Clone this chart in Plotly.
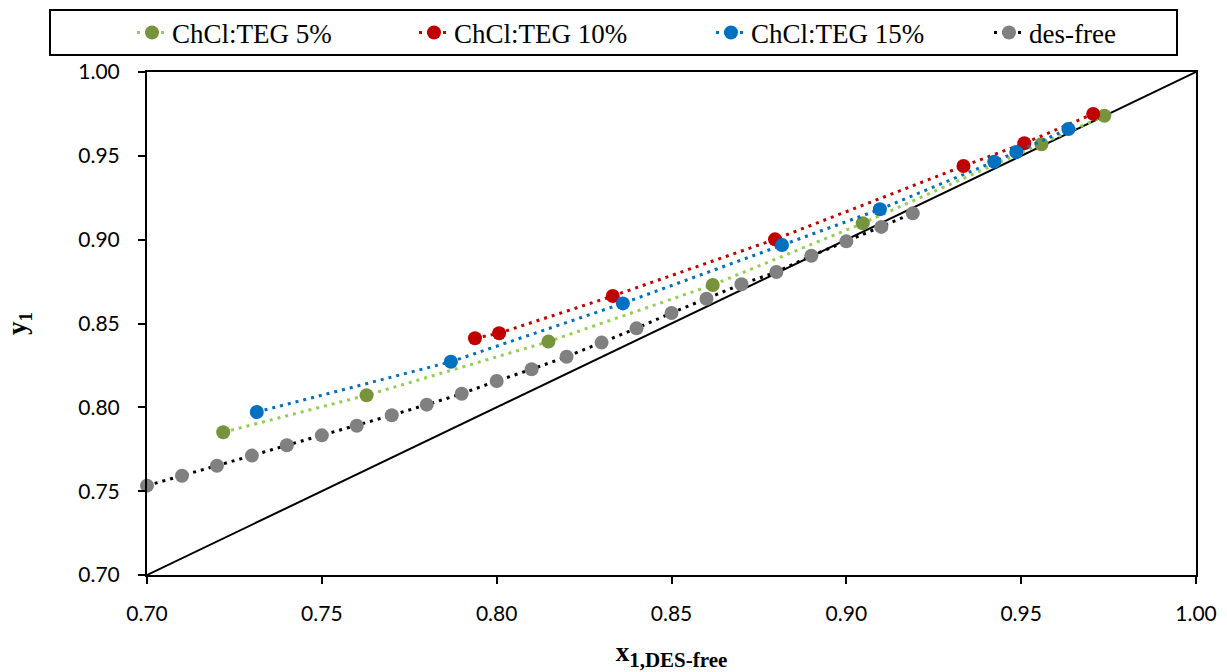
import plotly.graph_objects as go

# ChCl:TEG 5%
x_5 = [0.7218, 0.7628, 0.8148, 0.8618, 0.9047, 0.9558, 0.9738]
y_5 = [0.7851, 0.8072, 0.8392, 0.8730, 0.9098, 0.9569, 0.9739]
# ChCl:TEG 10%
x_10 = [0.7938, 0.8007, 0.8332, 0.8796, 0.9335, 0.9509, 0.9706]
y_10 = [0.8412, 0.8442, 0.8664, 0.9002, 0.9439, 0.9575, 0.9750]
# ChCl:TEG 15%
x_15 = [0.7314, 0.7869, 0.8361, 0.8816, 0.9096, 0.9423, 0.9486, 0.9635]
y_15 = [0.7972, 0.8272, 0.8620, 0.8968, 0.9181, 0.9465, 0.9523, 0.9660]
# des-free
x_free = [0.70, 0.71, 0.72, 0.73, 0.74, 0.75, 0.76, 0.77, 0.78, 0.79, 0.80,
          0.81, 0.82, 0.83, 0.84, 0.85, 0.86, 0.87, 0.88, 0.89, 0.90, 0.91, 0.919]
y_free = [0.7533, 0.7592, 0.7652, 0.7712, 0.7774, 0.7833, 0.7890, 0.7953, 0.8016,
          0.8081, 0.8157, 0.8227, 0.8302, 0.8386, 0.8471, 0.8563, 0.8648, 0.8734,
          0.8807, 0.8904, 0.8990, 0.9076, 0.9157]
# diagonal y = x
x_diag = [0.70, 1.00]
y_diag = [0.70, 1.00]

tick_vals = [0.70, 0.75, 0.80, 0.85, 0.90, 0.95, 1.00]
tick_text = ["0.70", "0.75", "0.80", "0.85", "0.90", "0.95", "1.00"]

W, H = 1227, 672
fig = go.Figure()

fig.add_trace(go.Scatter(x=x_diag, y=y_diag, mode="lines",
                         line=dict(color="black", width=2), showlegend=False,
                         hoverinfo="skip"))

series = [
    ("ChCl:TEG 5%", x_5, y_5, "#92D050", "#77933C", "legend"),
    ("ChCl:TEG 10%", x_10, y_10, "#C00000", "#C00000", "legend2"),
    ("ChCl:TEG 15%", x_15, y_15, "#0070C0", "#0070C0", "legend3"),
    ("des-free", x_free, y_free, "#000000", "#808080", "legend4"),
]
for name, xs, ys, lc, mc, lg in series:
    fig.add_trace(go.Scatter(
        x=xs, y=ys, mode="lines+markers", name=name, legend=lg,
        line=dict(color=lc, width=3, dash="3px,5px"),
        marker=dict(color=mc, size=14, line=dict(width=0)),
        cliponaxis=False,
    ))

axis_common = dict(
    range=[0.70, 1.00], tickvals=tick_vals, ticktext=tick_text,
    showgrid=False, zeroline=False, showline=True, linecolor="black",
    linewidth=2, mirror=True, ticks="outside", ticklen=7, tickwidth=1.5,
    tickcolor="black", tickfont=dict(family="Lato", size=21, color="black"),
)

leg_font = dict(family="Liberation Serif", size=27, color="black")
# left pixel position of each legend entry
leg_px = [132, 414, 711, 989]
legends = {}
for i, px in enumerate(leg_px):
    key = "legend" if i == 0 else f"legend{i + 1}"
    legends[key] = dict(orientation="h", xref="container", yref="container",
                        x=px / W, xanchor="left", y=1 - 33 / H, yanchor="middle",
                        bgcolor="rgba(0,0,0,0)", borderwidth=0, font=leg_font)

fig.update_layout(
    width=W, height=H,
    margin=dict(l=147, r=31, t=72, b=97, autoexpand=False),
    plot_bgcolor="white", paper_bgcolor="white",
    xaxis=dict(**axis_common, ticklabelstandoff=12,
               title=dict(text="<b>x<sub><span style=\"font-size:21px\">1,DES-free</span></sub></b>",
                          font=dict(family="Liberation Serif", size=27, color="black"),
                          standoff=26)),
    yaxis=dict(**axis_common, ticklabelstandoff=14,
               title=dict(text="<b>y<sub>1</sub></b>",
                          font=dict(family="Liberation Serif", size=27, color="black"),
                          standoff=44)),
    showlegend=True,
    **legends,
)

# legend frame
plot_l, plot_r, plot_t, plot_b = 147, W - 31, 72, H - 97
def px_to_paper_x(px):
    return (px - plot_l) / (plot_r - plot_l)
def py_to_paper_y(py):
    return (plot_b - py) / (plot_b - plot_t)

fig.add_shape(type="rect", xref="paper", yref="paper",
              x0=px_to_paper_x(50), x1=px_to_paper_x(1177),
              y0=py_to_paper_y(55), y1=py_to_paper_y(10),
              line=dict(color="black", width=2), fillcolor="rgba(0,0,0,0)",
              layer="below")

fig.write_html("out.html")
